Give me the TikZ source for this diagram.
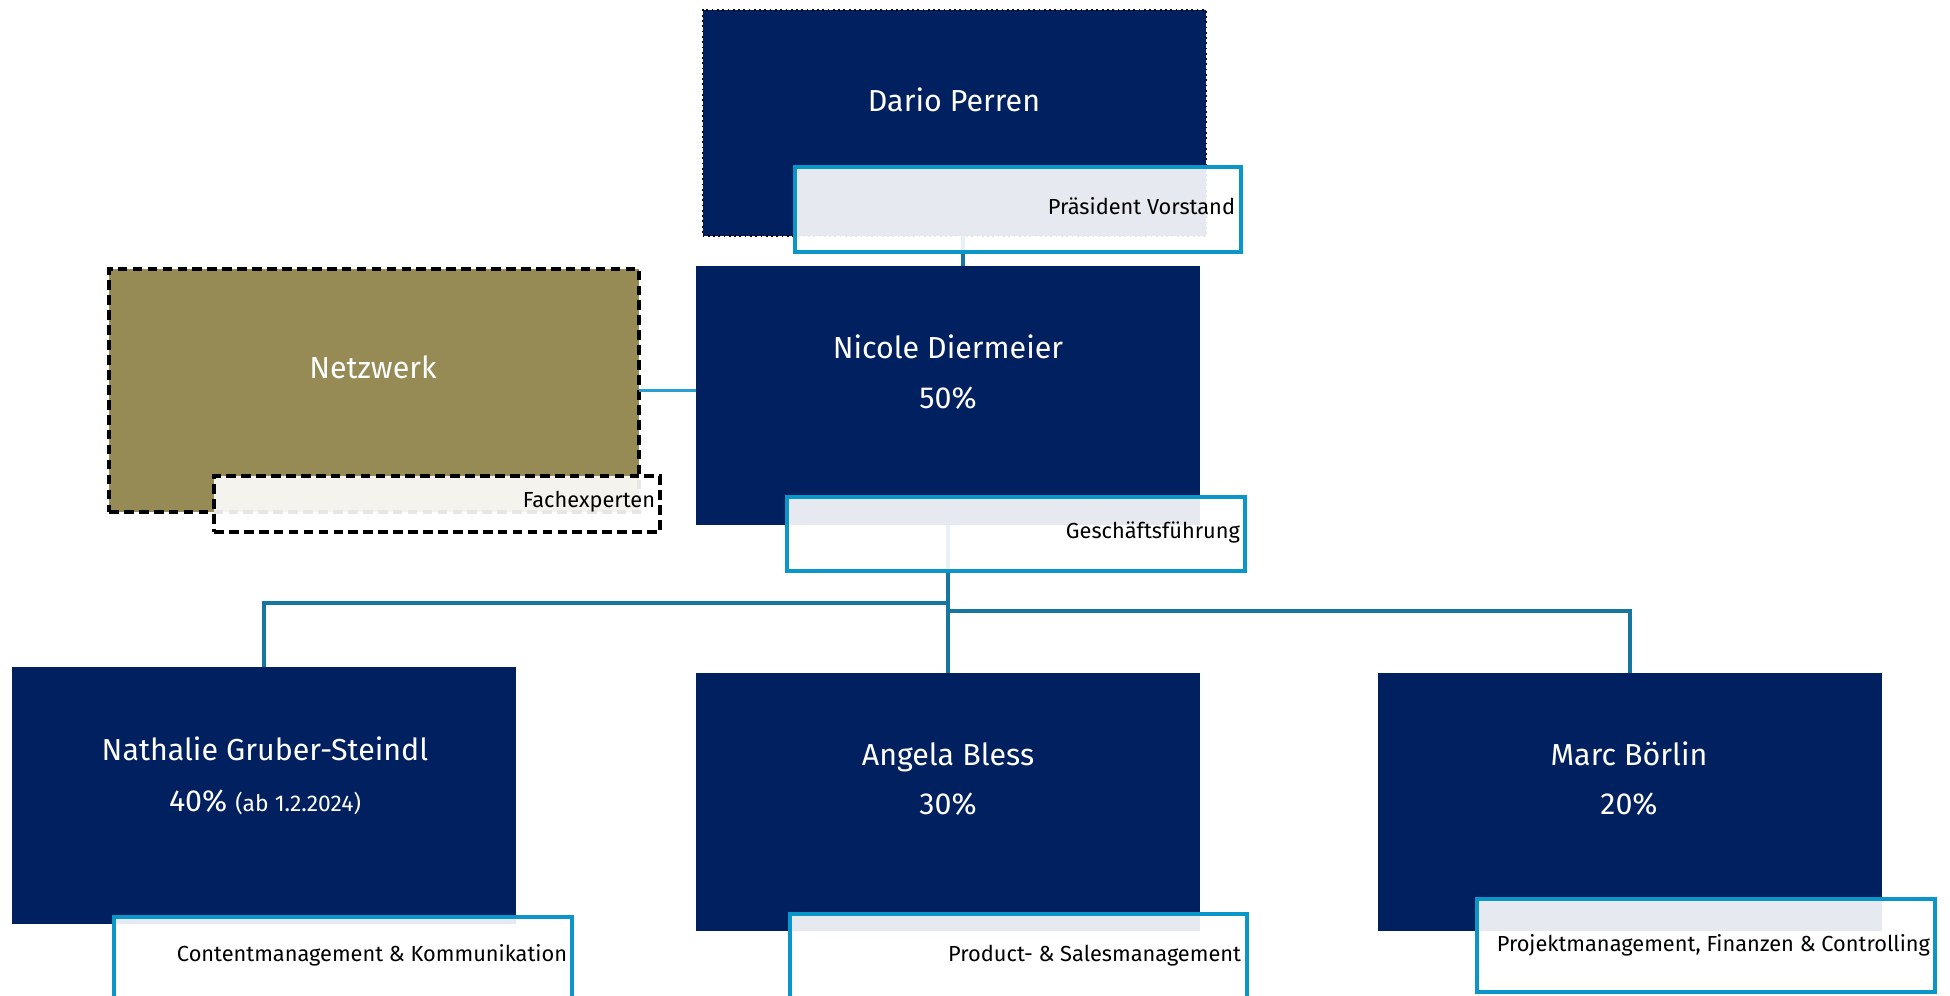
\documentclass[tikz,border=0pt]{standalone}
\usepackage{fontspec}
\setmainfont{Fira Sans}
\definecolor{navy}{HTML}{002060}
\definecolor{lblblue}{HTML}{0A96C8}
\definecolor{treeline}{HTML}{1676A0}
\definecolor{netline}{HTML}{2AA0D2}
\definecolor{olive}{HTML}{968A55}
\begin{document}
\begin{tikzpicture}[x=0.02cm,y=-0.02cm,
  every node/.style={inner sep=0pt, outer sep=0pt},
  personbox/.style={rectangle, fill=navy, minimum width=10.08cm, minimum height=5.16cm},
  lblbox/.style={rectangle, fill=white, fill opacity=0.9, draw=lblblue, draw opacity=1, line width=2pt},
  nametext/.style={text=white, font=\fontsize{17.3}{20}\selectfont, text height=0.69em, text depth=0pt},
  lbltext/.style={text=black, font=\fontsize{12.4}{15}\selectfont, text height=0.69em, text depth=0pt, anchor=east},
  treeconn/.style={draw=treeline, line width=1.9pt},
  netconn/.style={draw=netline, line width=1.2pt},
  dashedbox/.style={draw=black, draw opacity=1, line width=1.8pt, dash pattern=on 5.5pt off 3pt}
]
\useasboundingbox (0,0) rectangle (1950,995);
\clip (0,0) rectangle (1950,995);

% main boxes
\node[personbox, minimum height=4.52cm, draw=black, line width=1pt, dotted] (dario) at (954.5,123) {};
\node[personbox, minimum height=5.18cm] (nicole) at (948,395.5) {};
\node[rectangle, fill=olive, dashedbox, minimum width=10.6cm, minimum height=4.86cm] (netz) at (374,390.5) {};
\node[personbox, minimum height=5.14cm] (nathalie) at (264,795.5) {};
\node[personbox] (angela) at (948,802) {};
\node[personbox] (marc) at (1630,802) {};

% connectors
\coordinate (dtop) at (963,236);
\coordinate (ntop) at (963,266);
\draw[treeconn] (dtop) -- (ntop);
\draw[netconn] (netz.east) -- (nicole.west |- netz.east);
\coordinate (jl) at (948,603);
\coordinate (jr) at (948,611);
\draw[treeconn] (nicole.south) -- (angela.north);
\draw[treeconn] (jl) -| (nathalie.north -| 264,0);
\draw[treeconn] (jr) -| (marc.north);

% label boxes
\node[lblbox, minimum width=8.92cm, minimum height=1.70cm] (lpraes) at (1018,209.5) {};
\node[lblbox, minimum width=9.16cm, minimum height=1.48cm] (lgf) at (1016,534) {};
\node[rectangle, fill=white, fill opacity=0.9, dashedbox, minimum width=8.92cm, minimum height=1.12cm] (lfach) at (437,504) {};
\node[lblbox, minimum width=9.16cm, minimum height=1.72cm] (lcont) at (343,960) {};
\node[lblbox, minimum width=9.14cm, minimum height=1.72cm] (lprod) at (1018.5,957) {};
\node[lblbox, minimum width=9.16cm, minimum height=1.86cm] (lproj) at (1706,945.5) {};

% texts
\node[nametext] (tdario) at (954,105) {Dario Perren};
\node[nametext] (tnicole) at (948,352) {Nicole Diermeier};
\node[nametext] (tnicolep) at (948,402) {50\%};
\node[nametext] (tnetz) at (373,372) {Netzwerk};
\node[nametext] (tnath) at (265,754) {Nathalie Gruber-Steindl};
\node[nametext] (tnathp) at (265,805) {40\% {\fontsize{13}{15}\selectfont (ab 1.2.2024)}};
\node[nametext] (tang) at (948,759) {Angela Bless};
\node[nametext] (tangp) at (948,808) {30\%};
\node[nametext] (tmarc) at (1629,759) {Marc Börlin};
\node[nametext] (tmarcp) at (1629,808) {20\%};

\node[lbltext] (tpraes) at (1235,208) {Präsident Vorstand};
\node[lbltext] (tgf) at (1240,532) {Geschäftsführung};
\node[lbltext] (tfach) at (655,501) {Fachexperten};
\node[lbltext] (tcont) at (567,955) {Contentmanagement \& Kommunikation};
\node[lbltext] (tprod) at (1241,955) {Product- \& Salesmanagement};
\node[lbltext] (tproj) at (1930,945) {Projektmanagement, Finanzen \& Controlling};
\end{tikzpicture}
\end{document}
